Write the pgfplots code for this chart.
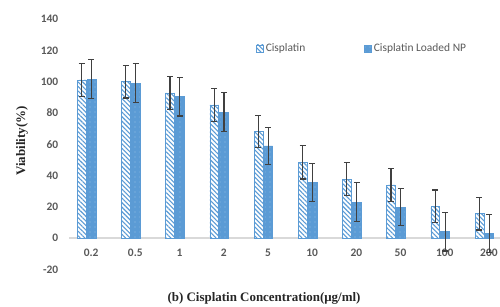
\documentclass[border=0pt]{standalone}
\usepackage{fontspec}
\setmainfont{Liberation Serif}
\newfontfamily\calibri{Carlito}
\usepackage{pgfplots}
\pgfplotsset{compat=1.18}
\usetikzlibrary{patterns.meta}
\definecolor{barblue}{HTML}{5B9BD5}
\definecolor{tickgray}{HTML}{595959}
\definecolor{errgray}{HTML}{404040}
\definecolor{axisgray}{HTML}{D9D9D9}
\begin{document}
\begin{tikzpicture}
\useasboundingbox (0,0) rectangle (500bp,307bp);
\begin{axis}[
  at={(69bp,37.7bp)}, anchor=south west,
  width=431bp, height=250.3bp, scale only axis,
  xmin=-0.5, xmax=9.25, ymin=-20, ymax=140,
  ytick={-20,0,20,40,60,80,100,120,140},
  xtick={0,1,2,3,4,5,6,7,8,9},
  xticklabels={0.2,0.5,1,2,5,10,20,50,100,200},
  axis line style={draw=none},
  major tick length=0pt,
  tick style={draw=none},
  ticklabel style={font=\calibri\bfseries\fontsize{11.5}{12}\selectfont, text=tickgray},
  /pgf/number format/assume math mode=true,
  yticklabel style={anchor=east, inner sep=0pt, xshift=-10.5bp},
  xticklabel style={anchor=base, inner sep=0pt, yshift=12.3bp},
  ybar, bar width=8.8bp,
  legend image code/.code={\draw[#1, line width=0.5bp] (0bp,-3.5bp) rectangle (7bp,3.5bp);},
  legend style={at={(axis description cs:0.434,0.883)}, anchor=west, draw=none, fill=none,
    font=\calibri\fontsize{11.5}{12}\selectfont, text=tickgray, inner sep=0pt,
    /tikz/every even column/.append style={column sep=57bp}},
  legend columns=2,
]
\draw[axisgray, line width=1.3bp] (axis cs:-0.5,0) -- (axis cs:9.25,0);
\addplot[bar shift=-9.5bp, draw=barblue, line width=0.6bp, fill=white,
  postaction={pattern={Lines[angle=-45,distance=3.2bp,line width=1.1bp]}, pattern color=barblue},
  error bars/.cd, y dir=both, y explicit,
  error bar style={errgray, line width=1.1bp},
  error mark options={errgray, rotate=90, mark size=3bp, line width=1.1bp}]
coordinates {
 (0,101.1) +- (0,10.6)
 (1,100.0) +- (0,10.5)
 (2,92.8) +- (0,10.5)
 (3,85.1) +- (0,10.5)
 (4,68.1) +- (0,10.0)
 (5,48.5) +- (0,10.8)
 (6,37.7) +- (0,10.8)
 (7,34.0) +- (0,10.7)
 (8,20.2) +- (0,10.5)
 (9,15.5) +- (0,10.4)
};
\addlegendentry{Cisplatin}
\addplot[bar shift=0.3bp, draw=barblue, line width=0.6bp, fill=barblue,
  postaction={pattern={Dots[distance=5bp,radius=0.45bp]}, pattern color=white},
  error bars/.cd, y dir=both, y explicit,
  error bar style={errgray, line width=1.1bp},
  error mark options={errgray, rotate=90, mark size=3bp, line width=1.1bp}]
coordinates {
 (0,101.5) +- (0,12.5)
 (1,99.0) +- (0,12.5)
 (2,90.4) +- (0,12.4)
 (3,80.5) +- (0,12.3)
 (4,58.9) +- (0,12.0)
 (5,35.3) +- (0,12.1)
 (6,23.0) +- (0,12.5)
 (7,19.8) +- (0,11.9)
 (8,4.0) +- (0,12.3)
 (9,2.7) +- (0,12.2)
};
\addlegendentry{Cisplatin Loaded NP}
\end{axis}
\node[rotate=90, font=\bfseries\fontsize{13}{15}\selectfont, text=black!85] at (22bp,166bp) {Viability(\%)};
\node[font=\bfseries\fontsize{13}{15}\selectfont, text=black!85] at (264bp,9bp) {(b) Cisplatin Concentration(μg/ml)};
\end{tikzpicture}
\end{document}
